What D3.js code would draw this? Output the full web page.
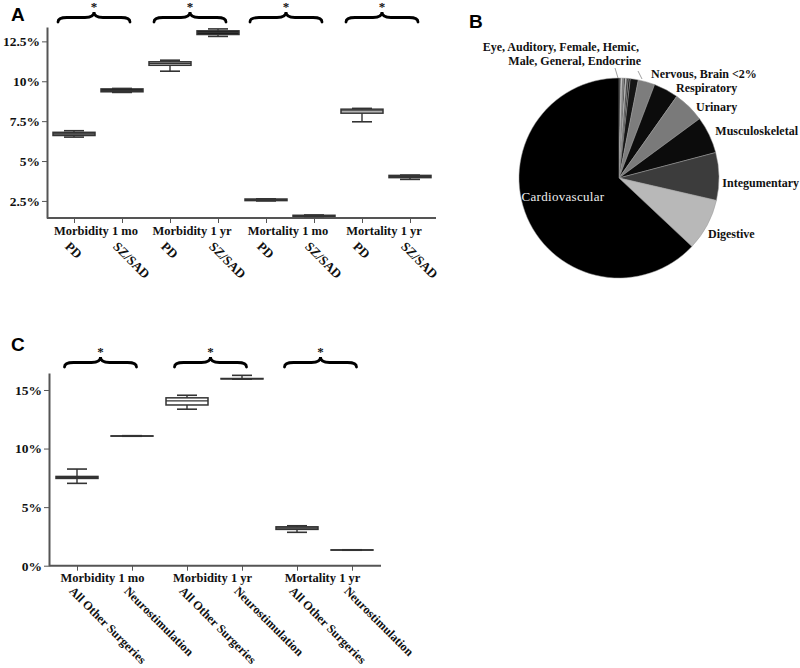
<!DOCTYPE html>
<html>
<head>
<meta charset="utf-8">
<script src="https://cdn.jsdelivr.net/npm/d3@7"></script>
<style>
  body { margin: 0; background: #fff; }
  svg { display: block; }
  .lbl { font-family: "Liberation Serif", "Times New Roman", serif; font-weight: bold; font-size: 12.5px; fill: #111; }
  .panel { font-family: "Liberation Sans", Arial, sans-serif; font-weight: bold; font-size: 19px; fill: #000; }
  .axis path, .axis line { stroke: #555; }
  .axis text { font-family: "Liberation Serif", "Times New Roman", serif; font-weight: bold; font-size: 13.5px; fill: #111; }
</style>
</head>
<body>
<div id="chart"></div>
<script>
document.addEventListener("DOMContentLoaded", function () {
  // panel A data (percent): min, q1, median, q3, max
  const groupsA = ["Morbidity 1 mo", "Morbidity 1 yr", "Mortality 1 mo", "Mortality 1 yr"];
  const cohortsA = ["PD", "SZ/SAD"];
  const boxesA = [
    [6.5, 6.6, 6.7, 6.8, 6.9],
    [9.3, 9.34, 9.43, 9.52, 9.55],
    [10.63, 11.0, 11.12, 11.22, 11.32],
    [12.81, 12.93, 13.05, 13.16, 13.28],
    [2.5, 2.52, 2.57, 2.62, 2.63],
    [1.53, 1.54, 1.56, 1.6, 1.62],
    [7.46, 8.0, 8.15, 8.25, 8.3],
    [3.85, 3.96, 4.03, 4.1, 4.12]
  ];
  const fillsA = ["#8a8a8a", "#111", "#dedede", "#111", "#999", "#555", "#dedede", "#111"];
  const ticksA = [2.5, 5, 7.5, 10, 12.5];

  // panel B data (percent of procedures)
  const systems = ["Eye", "Auditory", "Female", "Hemic", "Male", "General", "Endocrine",
    "Brain", "Nervous", "Respiratory", "Urinary", "Musculoskeletal", "Integumentary", "Digestive", "Cardiovascular"];
  const shares = [0.3, 0.2, 0.3, 0.2, 0.2, 0.3, 0.3, 1.3, 2.7, 4.0, 5.1, 6.0, 7.7, 8.4, 63.0];
  const sliceFills = ["#111", "#eee", "#777", "#111", "#ccc", "#333", "#111",
    "#151515", "#7d7d7d", "#0c0c0c", "#7a7a7a", "#0c0c0c", "#3c3c3c", "#b8b8b8", "#000"];

  // panel C data (percent)
  const groupsC = ["Morbidity 1 mo", "Morbidity 1 yr", "Mortality 1 yr"];
  const cohortsC = ["All Other Surgeries", "Neurostimulation"];
  const boxesC = [
    [7.03, 7.45, 7.54, 7.62, 8.25],
    [11.05, 11.06, 11.07, 11.08, 11.1],
    [13.36, 13.72, 14.07, 14.33, 14.55],
    [15.92, 15.94, 15.96, 15.98, 16.25],
    [2.85, 3.1, 3.22, 3.32, 3.41],
    [1.32, 1.33, 1.34, 1.35, 1.36]
  ];
  const fillsC = ["#7a7a7a", "#333", "#fff", "#333", "#888", "#333"];
  const ticksC = [0, 5, 10, 15];

  const svg = d3.select("#chart").append("svg").attr("width", 800).attr("height", 668);

  function brace(g, cx, w, yb, h) {
    const x0 = cx - w / 2, x1 = cx + w / 2, ym = yb - h * 0.45, yt = yb - h, r = 9;
    const p = `M${x0},${yb} Q${x0},${ym} ${x0 + r},${ym} L${cx - r},${ym} Q${cx},${ym} ${cx},${yt}` +
      ` Q${cx},${ym} ${cx + r},${ym} L${x1 - r},${ym} Q${x1},${ym} ${x1},${yb}`;
    g.append("path").attr("d", p).attr("fill", "none").attr("stroke", "#000")
      .attr("stroke-width", 2.8).attr("stroke-linecap", "round");
    g.append("text").attr("class", "lbl").attr("x", cx).attr("y", yt - 1)
      .attr("text-anchor", "middle").style("font-size", "13px").text("*");
  }

  function boxPanel(opt) {
    const keys = opt.boxes.map((d, i) => String(i));
    const x = d3.scalePoint().domain(keys).range(opt.xRange);
    const y = d3.scaleLinear().domain(opt.yDomain).range(opt.yRange);
    const g = svg.append("g");

    // y axis
    const ya = g.append("g").attr("class", "axis")
      .attr("transform", `translate(${opt.xAxis[0]},0)`)
      .call(d3.axisLeft(y).tickValues(opt.ticks).tickSize(5).tickSizeOuter(0).tickFormat((d) => d + "%"));
    ya.select(".domain").attr("stroke-width", 2);
    ya.selectAll("text").attr("x", -7);

    // x axis
    const xa = g.append("g").attr("class", "axis")
      .attr("transform", `translate(0,${opt.yRange[0]})`)
      .call(d3.axisBottom(x).tickSize(5).tickFormat((d) => opt.cohorts[d % 2]));
    xa.select(".domain").remove();
    xa.selectAll("text")
      .attr("transform", `translate(${opt.rotDx},${opt.rotDy}) rotate(45)`)
      .attr("x", 0).attr("y", 0).attr("dy", "0.35em")
      .style("text-anchor", "start").style("font-size", opt.rotSize);
    g.append("line")
      .attr("x1", opt.xAxis[0]).attr("x2", opt.xAxis[1])
      .attr("y1", opt.yRange[0]).attr("y2", opt.yRange[0])
      .attr("stroke", "#555").attr("stroke-width", 2);

    // group labels and braces
    opt.groups.forEach((name, i) => {
      const mid = (x(String(2 * i)) + x(String(2 * i + 1))) / 2;
      g.append("text").attr("class", "lbl").attr("x", mid - 2).attr("y", opt.yRange[0] + opt.groupDy)
        .attr("text-anchor", "middle").text(name);
      brace(g, mid - opt.braceShift, 72, opt.braceY, 10);
    });

    // boxes
    const bw = 42, cw = 20;
    const box = g.selectAll(".box").data(opt.boxes).join("g").attr("class", "box");
    box.append("line")
      .attr("x1", (d, i) => x(String(i))).attr("x2", (d, i) => x(String(i)))
      .attr("y1", (d) => y(d[0])).attr("y2", (d) => y(d[4]))
      .attr("stroke", "#333").attr("stroke-width", 1.4);
    [0, 4].forEach((k) => {
      box.append("line")
        .attr("x1", (d, i) => x(String(i)) - cw / 2).attr("x2", (d, i) => x(String(i)) + cw / 2)
        .attr("y1", (d) => y(d[k])).attr("y2", (d) => y(d[k]))
        .attr("stroke", "#333").attr("stroke-width", 1.6);
    });
    box.append("rect")
      .attr("x", (d, i) => x(String(i)) - bw / 2).attr("width", bw)
      .attr("y", (d) => y(d[3]))
      .attr("height", (d) => y(d[1]) - y(d[3]))
      .attr("fill", (d, i) => opt.fills[i]).attr("stroke", "#333").attr("stroke-width", 1.5);
    box.append("line")
      .attr("x1", (d, i) => x(String(i)) - bw / 2).attr("x2", (d, i) => x(String(i)) + bw / 2)
      .attr("y1", (d) => y(d[2])).attr("y2", (d) => y(d[2]))
      .attr("stroke", "#333").attr("stroke-width", 1.2);
  }

  boxPanel({
    boxes: boxesA, fills: fillsA, cohorts: cohortsA, groups: groupsA, ticks: ticksA,
    xRange: [74, 410], xAxis: [47, 436], yDomain: [1.43, 13.4], yRange: [218, 27],
    braceY: 22, braceShift: 4, rotDx: -7, rotDy: 26, rotSize: "13px", groupDy: 17
  });

  boxPanel({
    boxes: boxesC, fills: fillsC, cohorts: cohortsC, groups: groupsC, ticks: ticksC,
    xRange: [77, 352], xAxis: [49, 381], yDomain: [0, 16.45], yRange: [565.7, 373],
    braceY: 367, braceShift: 4, rotDx: -6, rotDy: 23, rotSize: "12.3px", groupDy: 16
  });

  // panel B pie
  const cx = 619, cy = 178, radius = 100;
  const pie = d3.pie().value((d) => d).sort(null);
  const arc = d3.arc().innerRadius(0).outerRadius(radius);
  const pg = svg.append("g").attr("transform", `translate(${cx},${cy})`);
  pg.selectAll("path").data(pie(shares)).join("path")
    .attr("d", arc)
    .attr("fill", (d, i) => sliceFills[i])
    .attr("stroke", "#9a9a9a").attr("stroke-width", 0.5);

  pg.append("line").attr("x1", -4).attr("y1", -110).attr("x2", -1).attr("y2", -100)
    .attr("stroke", "#888").attr("stroke-width", 0.8);
  pg.append("line").attr("x1", 19).attr("y1", -107).attr("x2", 23).attr("y2", -99)
    .attr("stroke", "#888").attr("stroke-width", 0.8);

  const pieLabels = [
    { t: "Eye, Auditory, Female, Hemic,", x: 639, y: 51, a: "end" },
    { t: "Male, General, Endocrine", x: 641, y: 65, a: "end" },
    { t: "Nervous, Brain <2%", x: 651, y: 78, a: "start" },
    { t: "Respiratory", x: 676, y: 92, a: "start" },
    { t: "Urinary", x: 696, y: 111, a: "start" },
    { t: "Musculoskeletal", x: 798, y: 135, a: "end" },
    { t: "Integumentary", x: 799, y: 187, a: "end" },
    { t: "Digestive", x: 708, y: 238, a: "start" }
  ];
  svg.selectAll(".plbl").data(pieLabels).join("text")
    .attr("class", "lbl plbl").style("font-size", "12px")
    .attr("x", (d) => d.x).attr("y", (d) => d.y)
    .attr("text-anchor", (d) => d.a).text((d) => d.t);
  svg.append("text").attr("x", 563).attr("y", 201).attr("text-anchor", "middle")
    .style("font-family", "'Liberation Serif', serif").style("font-size", "13px")
    .style("letter-spacing", "0.3px").attr("fill", "#eee").text("Cardiovascular");

  // panel letters
  svg.append("text").attr("class", "panel").attr("x", 11).attr("y", 21).text("A");
  svg.append("text").attr("class", "panel").attr("x", 469).attr("y", 28).text("B");
  svg.append("text").attr("class", "panel").attr("x", 11).attr("y", 351).text("C");
});
</script>
</body>
</html>
